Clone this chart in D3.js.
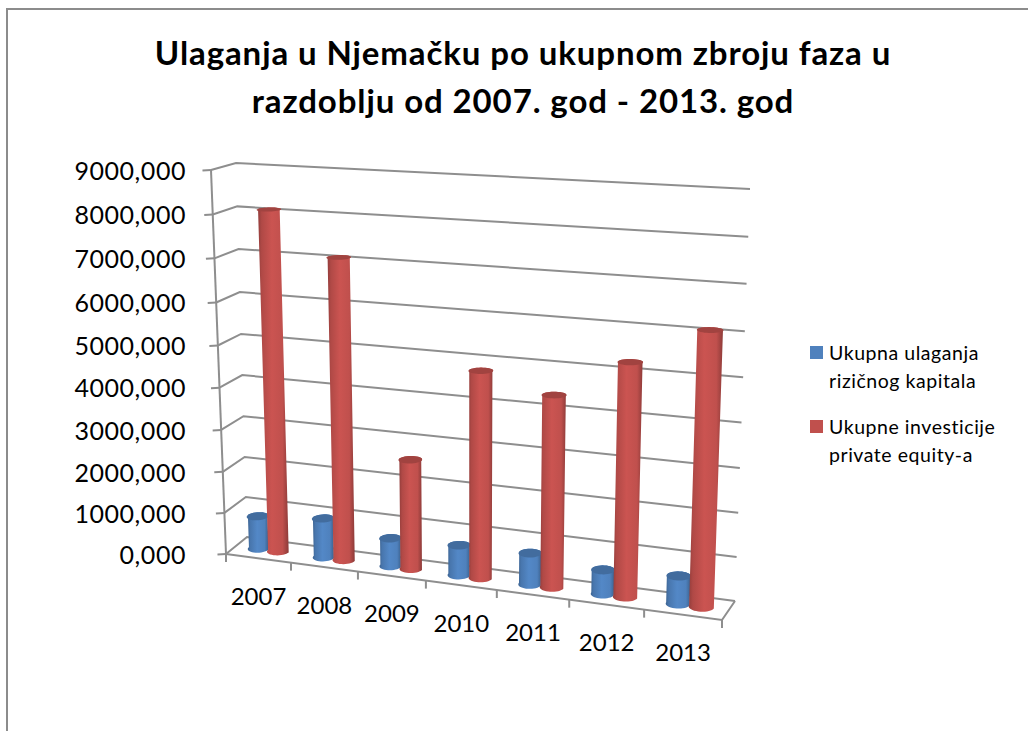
<!DOCTYPE html>
<html><head><meta charset="utf-8">
<script src="https://cdn.jsdelivr.net/npm/d3@7"></script>
<style>html,body{margin:0;padding:0;background:#fff}svg{display:block}text{font-family:Lato,"Open Sans",sans-serif;fill:#000}</style>
</head><body><svg id="c" width="1028" height="731"></svg>
<script>
const categories=["2007","2008","2009","2010","2011","2012","2013"];
const ventureValues=[790,935,660,700,725,550,630];
const equityValues=[8080,7090,2580,4790,4390,5270,6100];
const yTicks=[0,1000,2000,3000,4000,5000,6000,7000,8000,9000];
const yTickLabels=["0,000","1000,000","2000,000","3000,000","4000,000","5000,000","6000,000","7000,000","8000,000","9000,000"];
const titleLines=["Ulaganja u Njemačku po ukupnom zbroju faza u","razdoblju od 2007. god - 2013. god"];
const legendLines=[["Ukupna ulaganja","rizičnog kapitala"],["Ukupne investicije","private equity-a"]];
const seriesColors=["#4F81BD","#C0504D"];

const W=1028,H=731;
const svg=d3.select("#c");
const defs=svg.append("defs");
function grad(id,c){
  const g=defs.append("linearGradient").attr("id",id);
  const col=d3.color(c);
  [[0,col.darker(.75)],[.12,col.darker(.25)],[.45,col.brighter(.15)],[.8,col],[1,col.darker(.9)]].forEach(s=>g.append("stop").attr("offset",s[0]).attr("stop-color",s[1]));
}
grad("g0",seriesColors[0]);grad("g1",seriesColors[1]);

const uFrac=d3.scaleLinear().domain([0,1,2,3,4,5,6,7]).range([0,.131,.266,.403,.546,.692,.843,1]);
const vFrac=d3.scaleLinear().domain(yTicks).range([0,.107,.214,.323,.433,.543,.655,.770,.884,1]);
const edge=(a,b)=>d3.scaleLinear().domain([0,1]).range([a,b]);
const frontBottomX=edge(226,722),frontBottomY=edge(554,620),frontTopX=edge(211,736),frontTopY=edge(170,197);
const backBottomX=edge(247,735),backBottomY=edge(537,601),backTopX=edge(236,750),backTopY=edge(163,189);
function P(u,d,v){
  const f=uFrac(u),t=vFrac(v);
  const bx=frontBottomX(f)+(backBottomX(f)-frontBottomX(f))*d;
  const by=frontBottomY(f)+(backBottomY(f)-frontBottomY(f))*d;
  const tx=frontTopX(f)+(backTopX(f)-frontTopX(f))*d;
  const ty=frontTopY(f)+(backTopY(f)-frontTopY(f))*d;
  return [bx+(tx-bx)*t,by+(ty-by)*t];
}
const line=d3.line();
const gridC="#8e8e8e";

svg.append("path").attr("d",`M7,${H+2}V9H${W+2}`).attr("fill","none").attr("stroke","#8c8c8c").attr("stroke-width",2);

const grid=svg.append("g").attr("fill","none").attr("stroke",gridC).attr("stroke-width",2);
yTicks.forEach(v=>{
  grid.append("path").attr("d",line([P(0,0,v),P(0,1,v),P(7,1,v)]));
  const a=P(0,0,v);
  grid.append("path").attr("d",line([a,[a[0]-8.5,a[1]+.5]]));
});
grid.append("path").attr("d",line([P(0,0,0),P(0,0,9000)]));
grid.append("path").attr("d",line([P(0,0,0),P(7,0,0),P(7,1,0)]));
d3.range(0,8).forEach(u=>{
  const a=P(u,0,0);
  grid.append("path").attr("d",line([a,[a[0],a[1]+8]]));
});

const angles=d3.range(0,361,10).map(a=>a*Math.PI/180);
function cylinder(u,val,i){
  const cu=u+(i===0?.345:.65),ru=i===0?.152:.16,dd=.24;
  const ring=v=>angles.map(a=>P(cu+ru*Math.cos(a),.5+dd*Math.sin(a),v));
  const front=angles.filter(a=>a<=Math.PI+1e-6);
  const bottom=front.map(a=>P(cu+ru*Math.cos(a),.5-dd*Math.sin(a),0));
  const top=front.slice().reverse().map(a=>P(cu+ru*Math.cos(a),.5+dd*Math.sin(a),val));
  const g=svg.append("g");
  g.append("path").attr("d",line(bottom.concat(top))+"Z").attr("fill",`url(#g${i})`);
  g.append("path").attr("d",line(ring(val))+"Z").attr("fill",d3.color(seriesColors[i]).darker(.5));
}
categories.forEach((c,k)=>{
  cylinder(k,ventureValues[k],0);
  cylinder(k,equityValues[k],1);
});

svg.append("g").selectAll("text").data(yTicks).join("text")
  .attr("x",186).attr("y",v=>P(0,0,v)[1]+1).attr("dy",".35em").attr("text-anchor","end")
  .attr("font-size",25).attr("letter-spacing",.55).text((v,i)=>yTickLabels[i]);

svg.append("g").selectAll("text").data(categories).join("text")
  .attr("x",(c,i)=>P(i+.5,0,0)[0]).attr("y",(c,i)=>P(i+.5,0,0)[1]+38).attr("dy",".35em").attr("text-anchor","middle")
  .attr("font-size",24).text(c=>c);

svg.append("g").selectAll("text").data(titleLines).join("text")
  .attr("x",523).attr("y",(d,i)=>65+i*48).attr("text-anchor","middle")
  .attr("font-size",33).attr("letter-spacing",.9).attr("font-weight",700).text(d=>d);

const leg=svg.append("g");
legendLines.forEach((ls,i)=>{
  const y0=346+i*74;
  leg.append("rect").attr("x",810).attr("y",y0).attr("width",13).attr("height",13).attr("fill",seriesColors[i]);
  ls.forEach((t,j)=>leg.append("text").attr("x",829).attr("y",y0+14+j*28).attr("font-size",19.5).attr("letter-spacing",.55).text(t));
});
</script></body></html>
